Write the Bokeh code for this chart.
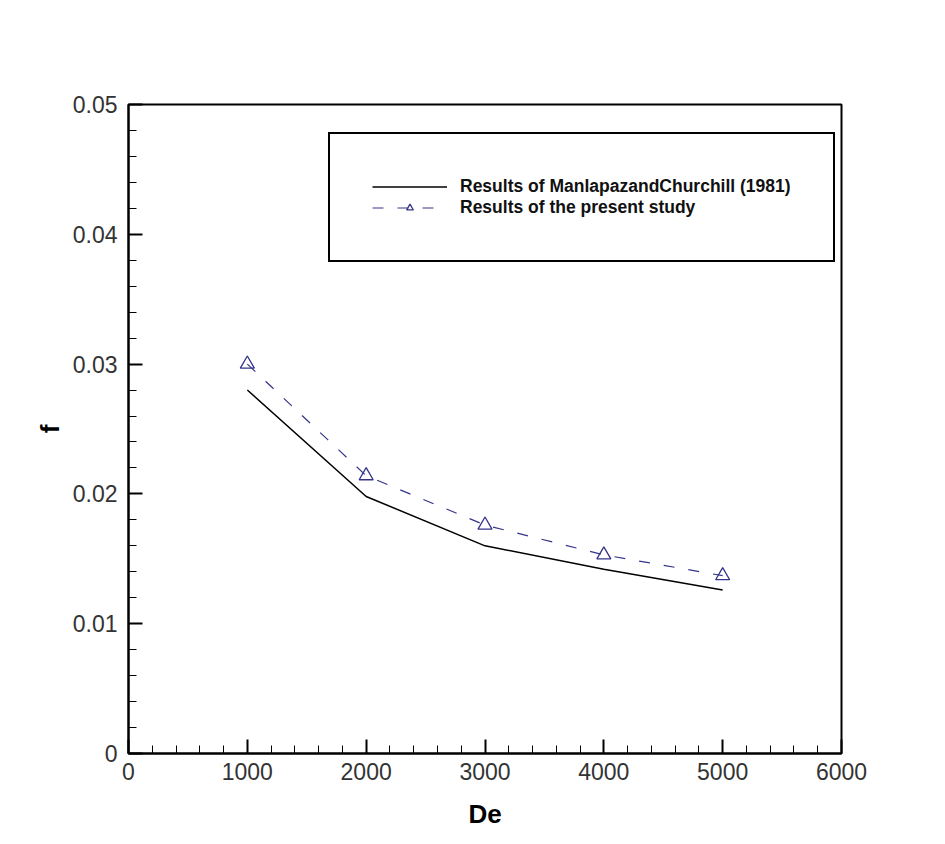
from bokeh.plotting import figure
from bokeh.models import (FixedTicker, CustomJSTickFormatter, Legend, LegendItem, Range1d)
from bokeh.embed import file_html
from bokeh.resources import INLINE

# ---- data ----
de = [1000, 2000, 3000, 4000, 5000]
f_manlapaz = [0.0280, 0.0198, 0.0160, 0.0142, 0.0126]
f_present = [0.0300, 0.0214, 0.0176, 0.0153, 0.0137]

x_ticks = [0, 1000, 2000, 3000, 4000, 5000, 6000]
x_minor = [v for v in range(0, 6001, 200)]
y_ticks = [0, 0.01, 0.02, 0.03, 0.04, 0.05]
y_minor = [i * 0.002 for i in range(0, 26)]

x_title = "De"
y_title = "f"
label_a = "Results of ManlapazandChurchill (1981)"
label_b = "Results of the present study"

W, H = 940, 840
FL, FR, FT, FB = 128, 841, 104, 753   # frame edges on the page
p = figure(width=W, height=H, output_backend="svg", toolbar_location=None,
           x_range=Range1d(0, 6000), y_range=Range1d(0, 0.05),
           min_border_left=FL, min_border_right=W - FR, min_border_top=FT,
           min_border_bottom=H - FB)
p.background_fill_color = "white"
p.border_fill_color = "white"
p.outline_line_color = "black"
p.outline_line_width = 2
p.grid.visible = False

tick_font = "'Liberation Sans', Arial, sans-serif"
for ax in (p.xaxis[0], p.yaxis[0]):
    ax.axis_line_width = 2
    ax.major_tick_in = 14
    ax.major_tick_out = 0
    ax.minor_tick_in = 8
    ax.minor_tick_out = 0
    ax.major_tick_line_width = 2
    ax.minor_tick_line_width = 1
    ax.major_label_text_font = tick_font
    ax.major_label_text_font_size = "23px"
    ax.major_label_text_color = "#333333"
    ax.major_label_text_font_style = "normal"
    ax.axis_label_text_font = tick_font
    ax.axis_label_text_font_style = "bold"
    ax.axis_label_text_font_size = "26px"
    ax.axis_label_text_color = "black"

p.xaxis[0].ticker = FixedTicker(ticks=x_ticks, minor_ticks=x_minor)
p.yaxis[0].ticker = FixedTicker(ticks=y_ticks, minor_ticks=y_minor)
p.xaxis[0].major_label_standoff = 9
p.yaxis[0].major_label_standoff = 11
p.yaxis[0].formatter = CustomJSTickFormatter(code="return String(Math.round(tick*100)/100);")
p.xaxis[0].formatter = CustomJSTickFormatter(code="return String(Math.round(tick));")
p.xaxis[0].axis_label = x_title
p.yaxis[0].axis_label = y_title
p.xaxis[0].axis_label_standoff = 16
p.yaxis[0].axis_label_standoff = 5

r1 = p.line(de, f_manlapaz, line_color="black", line_width=1.5)
r2 = p.line(de, f_present, line_color="#34348a", line_width=1.2, line_dash="11 14")
r3 = p.scatter(de, f_present, marker="triangle", size=14, line_color="#34348a",
               line_width=1.3, fill_color="white", fill_alpha=0.0)

legend = Legend(items=[LegendItem(label=label_a, renderers=[r1]),
                       LegendItem(label=label_b, renderers=[r2, r3])],
                location=(328 - FL, FB - 262))
legend.border_line_color = "black"
legend.border_line_width = 2
legend.border_line_alpha = 1.0
legend.background_fill_color = "white"
legend.padding = 42
legend.spacing = 0
legend.glyph_width = 75
legend.glyph_height = 17
legend.label_height = 17
legend.label_standoff = 13
legend.label_text_font = "'Liberation Sans Narrow', 'Arial Narrow', 'Liberation Sans', sans-serif"
legend.label_text_font_style = "bold"
legend.label_text_font_size = "17.5px"
legend.label_text_color = "#111111"
legend.margin = 0
p.add_layout(legend, "center")

open("out.html", "w").write(file_html(p, INLINE))
